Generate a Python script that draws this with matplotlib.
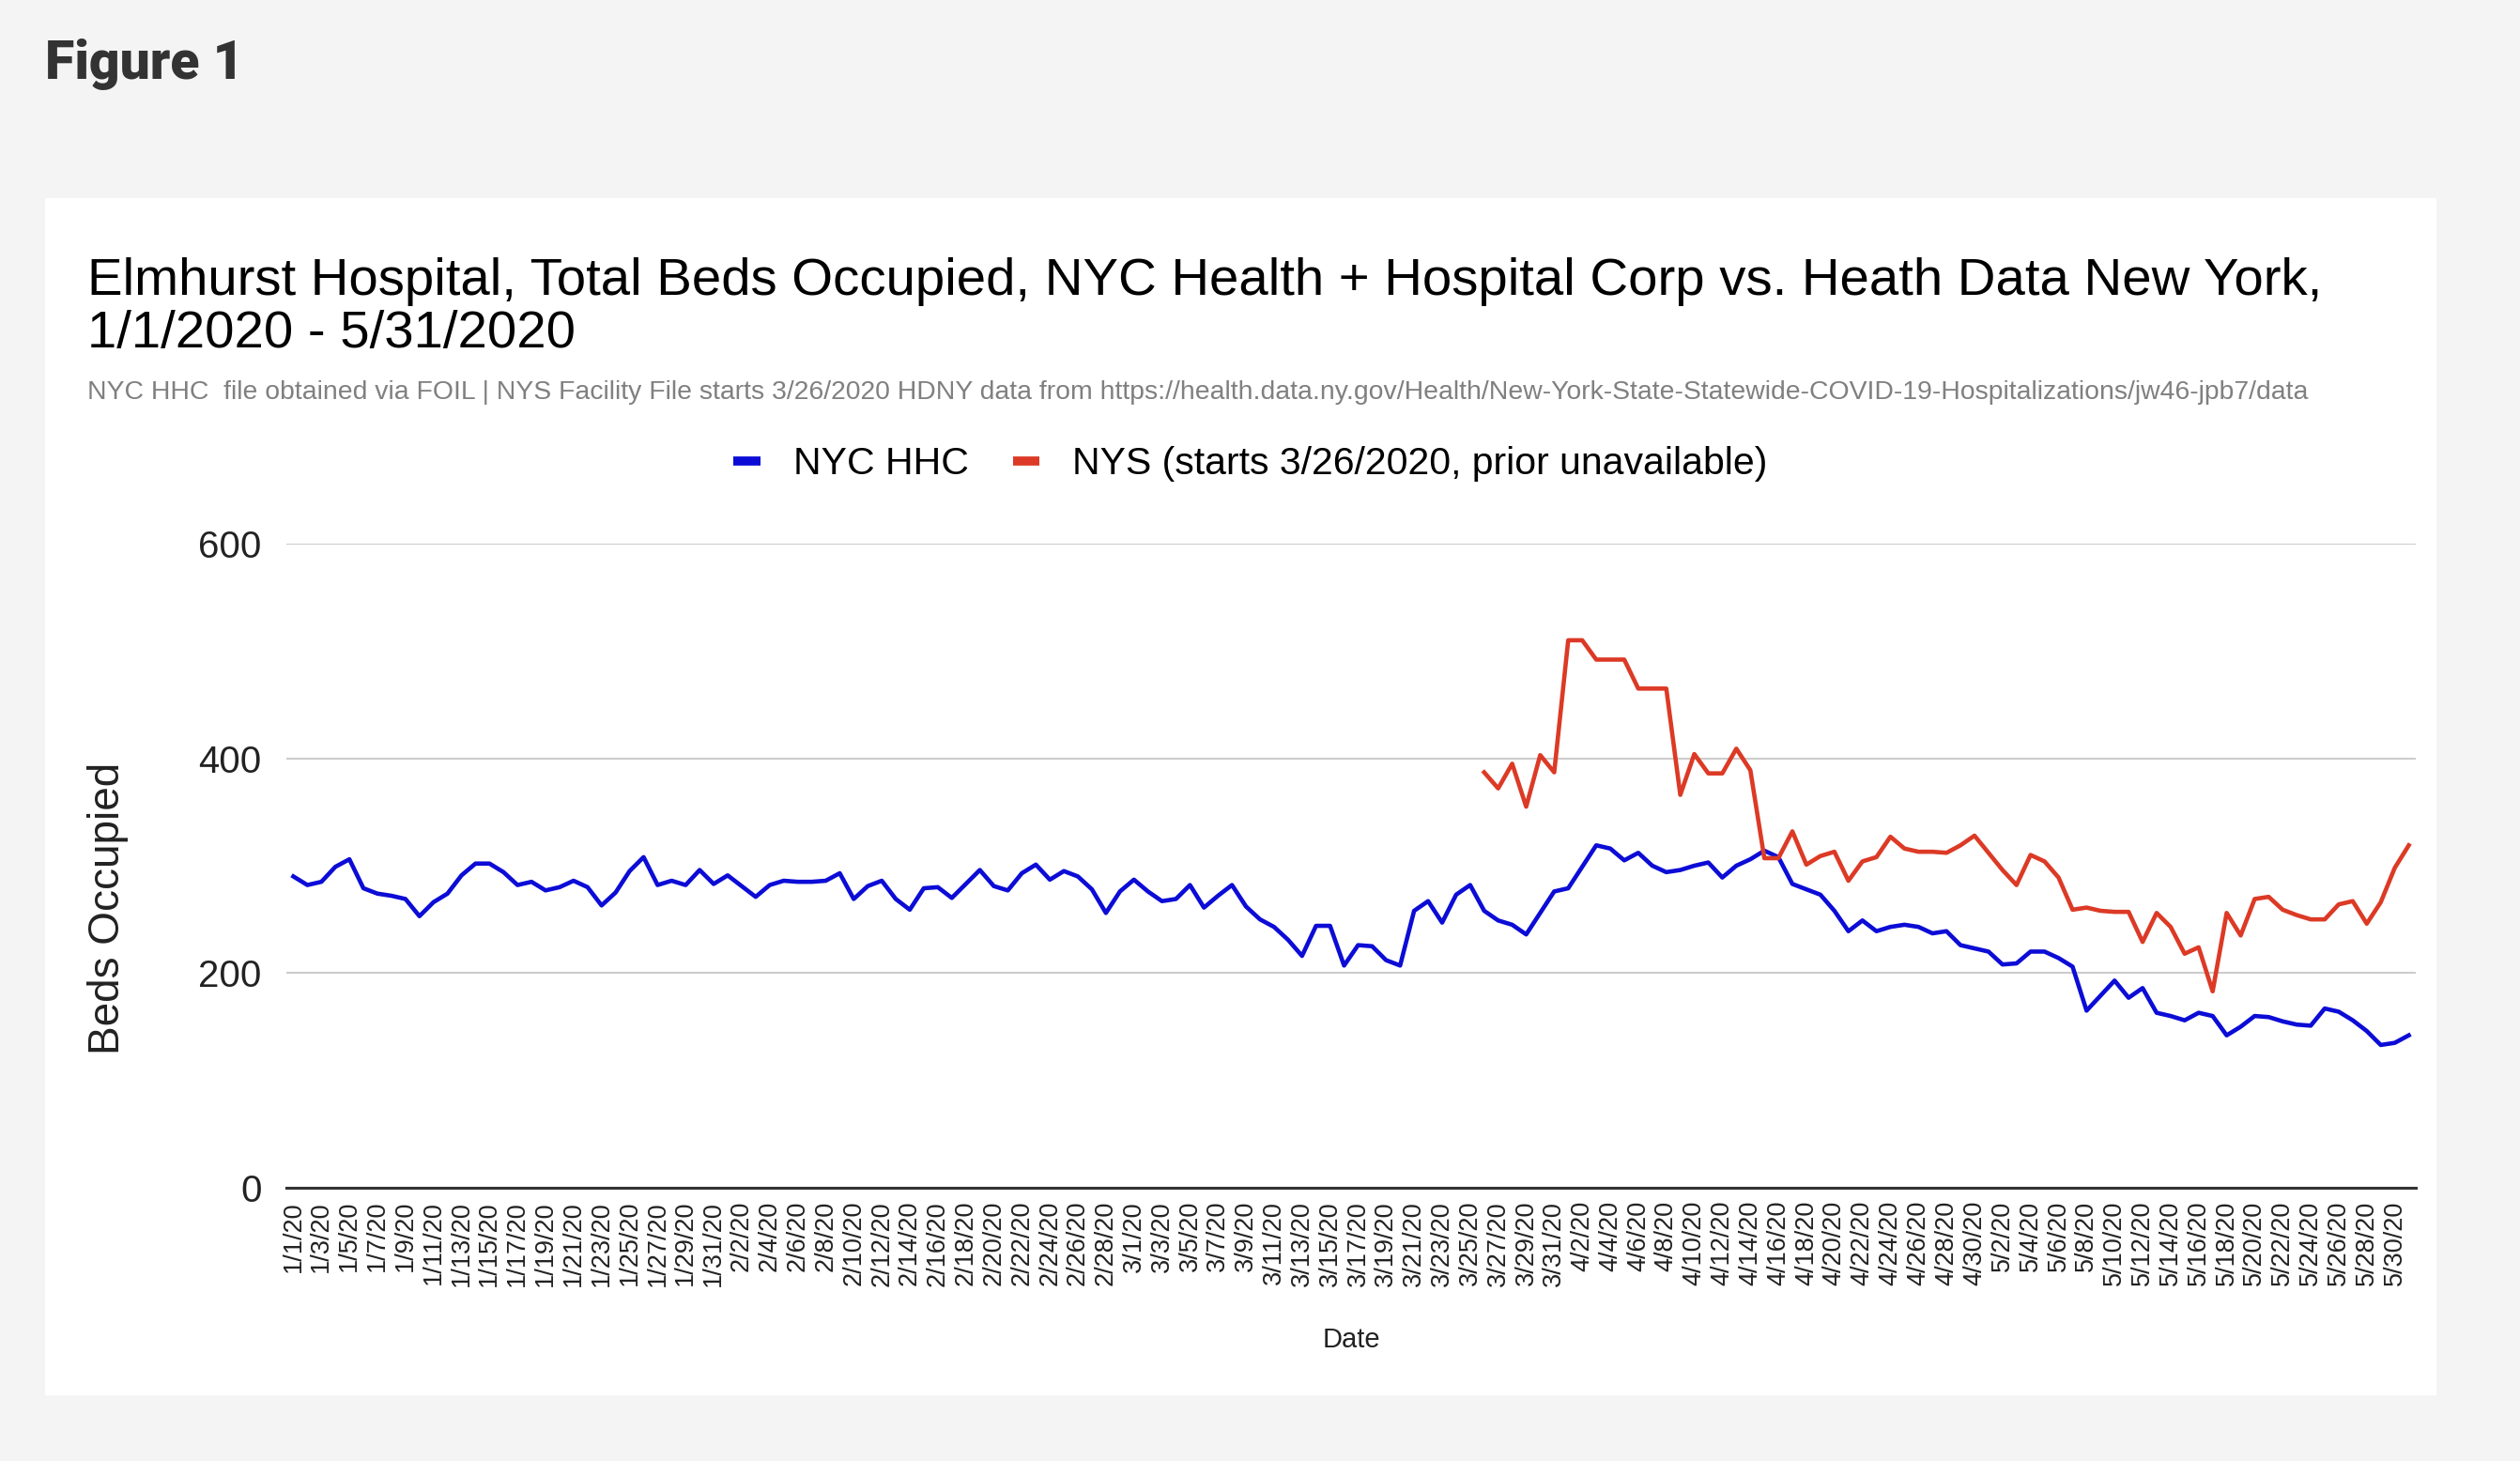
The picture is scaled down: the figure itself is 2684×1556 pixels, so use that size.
import numpy as np
import pandas as pd
import matplotlib
matplotlib.use('Agg')
import matplotlib.pyplot as plt
from matplotlib.patches import Rectangle
from matplotlib.lines import Line2D

plt.rcParams['font.family'] = ['Liberation Sans', 'DejaVu Sans']

# daily categories 1/1/2020 .. 5/31/2020
dates = pd.date_range('2020-01-01', '2020-05-31', freq='D')
date_labels = ['{:}/{:}/20'.format(d.month, d.day) for d in dates]

# NYC HHC, Elmhurst total beds occupied
nyc_hhc = [290, 282, 285, 299, 306, 279, 274, 272, 269, 253,
           266, 274, 291, 302, 302, 294, 282, 285, 277, 280,
           286, 280, 263, 275, 295, 308, 282, 286, 282, 296,
           283, 291, 281, 271, 282, 286, 285, 285,
           286, 293, 269, 281, 286, 269, 259, 279, 280, 270,
           283, 296, 281, 277, 293, 301, 287, 295, 290, 278,
           256, 276, 287, 276, 267, 269, 282, 261, 272, 282,
           262, 250, 243, 231, 216, 244, 244,
           207, 226, 225, 212, 207, 258, 267, 247, 273, 282,
           258, 249, 245, 236, 256, 276, 279, 299, 319, 316,
           305, 312, 300, 294, 296, 300, 303, 289, 300, 306,
           314, 308, 283, 278, 273, 258, 239,
           249, 239, 243, 245, 243, 237, 239, 226, 223, 220,
           208, 209, 220, 220, 214, 206, 165, 179, 193, 177,
           186, 163, 160, 156, 163, 160, 142, 150, 160, 159,
           155, 152, 151, 167, 164, 156, 146, 133, 135, 142]

# NYS facility file, starts 3/26/2020
nys_start = '2020-03-26'
nys = [387, 372, 395, 355, 403, 387, 510, 510, 492, 492,
       492, 465, 465, 465, 366, 404, 386, 386, 409, 389,
       307, 307, 332, 301, 309, 313, 286, 304, 308, 327,
       316, 313, 313, 312, 319, 328, 312, 296, 282, 310,
       304, 289, 259, 261, 258, 257, 257, 229, 256, 243,
       218, 224, 183, 256, 235, 269, 271, 259, 254, 250,
       250, 264, 267, 246, 266, 298, 319]

blue = '#0c0cd6'
red = '#dc3a26'

W, H = 2684, 1556
fig = plt.figure(figsize=(W / 100, H / 100), dpi=100)
fig.patch.set_facecolor('#f4f4f4')

# white card
fig.patches.append(Rectangle((48 / W, 1 - 1486 / H), (2595 - 48) / W, (1486 - 211) / H,
                             transform=fig.transFigure, facecolor='white',
                             edgecolor='none', zorder=-10))

fig.text(48 / W, 1 - 68 / H, 'Figure 1', fontsize=41, fontweight='heavy',
         family=['Roboto', 'DejaVu Sans'], color='#333333', va='center', ha='left')

fig.text(93 / W, 1 - 314 / H,
         'Elmhurst Hospital, Total Beds Occupied, NYC Health + Hospital Corp vs. Heath Data New York,',
         fontsize=40.6, color='#000000', va='baseline', ha='left')
fig.text(93 / W, 1 - 370 / H, '1/1/2020 - 5/31/2020',
         fontsize=40.6, color='#000000', va='baseline', ha='left')

fig.text(93 / W, 1 - 425 / H,
         'NYC HHC  file obtained via FOIL | NYS Facility File starts 3/26/2020 HDNY data from '
         'https://health.data.ny.gov/Health/New-York-State-Statewide-COVID-19-Hospitalizations/jw46-jpb7/data',
         fontsize=20.4, color='#808080', va='baseline', ha='left')

left, right = 305 / W, 2573 / W
bottom, top = 1 - 1265 / H, 1 - 579 / H
ax = fig.add_axes([left, bottom, right - left, top - bottom])
ax.set_facecolor('none')

x = np.arange(len(dates))
x_nys = np.arange(len(nys)) + list(dates).index(pd.Timestamp(nys_start))

ax.plot(x, nyc_hhc, color=blue, lw=3.3, solid_joinstyle='round', zorder=3, clip_on=False)
ax.plot(x_nys, nys, color=red, lw=3.3, solid_joinstyle='round', zorder=3, clip_on=False)

ax.set_xlim(-0.5, len(dates) - 0.5)
ax.set_ylim(0, 600)
ax.set_yticks([0, 200, 400, 600])
ax.set_xticks(x[::2])
ax.set_xticklabels(date_labels[::2], rotation=90, fontsize=19.5)
ax.tick_params(axis='y', length=0, pad=19, labelsize=29, colors='#222222')
ax.tick_params(axis='x', length=0, pad=10, colors='#222222')

ax.grid(axis='y', color='#cccccc', lw=1.5, zorder=1)
for s in ['top', 'right', 'left', 'bottom']:
    ax.spines[s].set_visible(False)
ax.axhline(0, color='#333333', lw=2.2, zorder=2, clip_on=False)

fig.text(115 / W, 1 - 967 / H, 'Beds Occupied', rotation=90, fontsize=33,
         va='center', ha='center', color='#222222')
fig.text((left + right) / 2, 1 - 1427 / H, 'Date', fontsize=21,
         va='center', ha='center', color='#222222')

handles = [Line2D([], [], color=blue, lw=7, solid_capstyle='butt'),
           Line2D([], [], color=red, lw=7, solid_capstyle='butt')]
fig.legend(handles, ['NYC HHC', 'NYS (starts 3/26/2020, prior unavailable)'],
           loc='center', bbox_to_anchor=(1332 / W, 1 - 494 / H), ncol=2,
           frameon=False, fontsize=29.5, handlelength=0.7, handletextpad=0.85,
           columnspacing=1.15, borderpad=0, borderaxespad=0)

plt.savefig('out.png', dpi=100, facecolor=fig.get_facecolor())
plt.close()
